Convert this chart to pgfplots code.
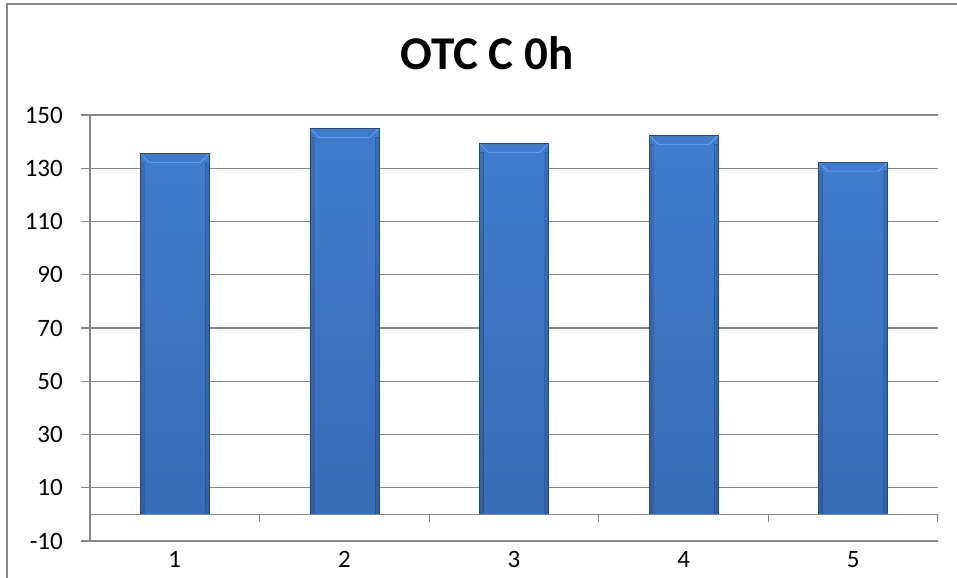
\documentclass[border=0pt]{standalone}
\usepackage{fontspec}
\setmainfont{Carlito}
\usepackage{pgfplots}
\pgfplotsset{compat=1.18}

\definecolor{gridgray}{RGB}{134,134,134}
\definecolor{bevel}{RGB}{112,166,236}
\definecolor{baredge}{RGB}{38,72,124}
\pgfdeclareverticalshading{barshade}{100bp}{rgb(0bp)=(0.20,0.39,0.67); rgb(100bp)=(0.27,0.52,0.85)}

\tikzset{
  barpic/.style={path picture={
      \fill[bevel, path picture={}] (path picture bounding box.north west) -- (path picture bounding box.north east)
        -- ([xshift=-9bp,yshift=-9bp]path picture bounding box.north east)
        -- ([xshift=9bp,yshift=-9bp]path picture bounding box.north west) -- cycle;
      \fill[black, opacity=0.12, path picture={}] (path picture bounding box.south west)
        rectangle ([xshift=4bp,yshift=-9bp]path picture bounding box.north west);
      \fill[black, opacity=0.12, path picture={}] (path picture bounding box.south east)
        rectangle ([xshift=-4bp,yshift=-9bp]path picture bounding box.north east);
    }},
}
\pgfplotsset{
  mybar/.style={ybar, bar width=69bp, shading=barshade, draw=baredge, line width=0.6bp,
    forget plot, barpic},
}

\begin{document}
\begin{tikzpicture}
\useasboundingbox (-90bp,-37bp) rectangle (867bp,541bp);
\draw[gridgray, line width=1.2bp] (-83bp,-37bp) -- (-83bp,537bp) -- (867bp,537bp);
\node[anchor=base, font=\fontsize{47bp}{54bp}\selectfont\bfseries] at (397bp,471bp) {OTC C 0h};
\begin{axis}[
  scale only axis, width=848bp, height=426bp,
  xmin=0.5, xmax=5.5, ymin=-10, ymax=150,
  ytick={-10,10,...,150}, xtick={1,2,3,4,5},
  axis x line*=bottom, axis y line*=left,
  axis line style={gridgray, line width=1.2bp, -},
  ymajorgrids, grid style={gridgray, line width=1.2bp},
  tick align=outside, major tick length=9bp,
  ytick style={gridgray, line width=1.2bp},
  xtick style={draw=none},
  /pgf/number format/assume math mode=true,
  tick label style={font=\fontsize{25bp}{30bp}\selectfont, text=black},
  yticklabel style={inner sep=0pt, xshift=-18bp},
  xticklabel style={inner sep=0pt, yshift=-1bp},
]
\addplot[mybar] coordinates {(1,135.5)};
\addplot[mybar] coordinates {(2,145.0)};
\addplot[mybar] coordinates {(3,139.4)};
\addplot[mybar] coordinates {(4,142.4)};
\addplot[mybar] coordinates {(5,132.3)};
\draw[gridgray, line width=1.2bp] (axis cs:0.5,0) -- (axis cs:5.5,0);
\pgfplotsinvokeforeach{0.5,1.5,2.5,3.5,4.5,5.5}{
  \draw[gridgray, line width=1.2bp] (axis cs:#1,0) -- (axis cs:#1,-3);
}
\end{axis}
\end{tikzpicture}
\end{document}
